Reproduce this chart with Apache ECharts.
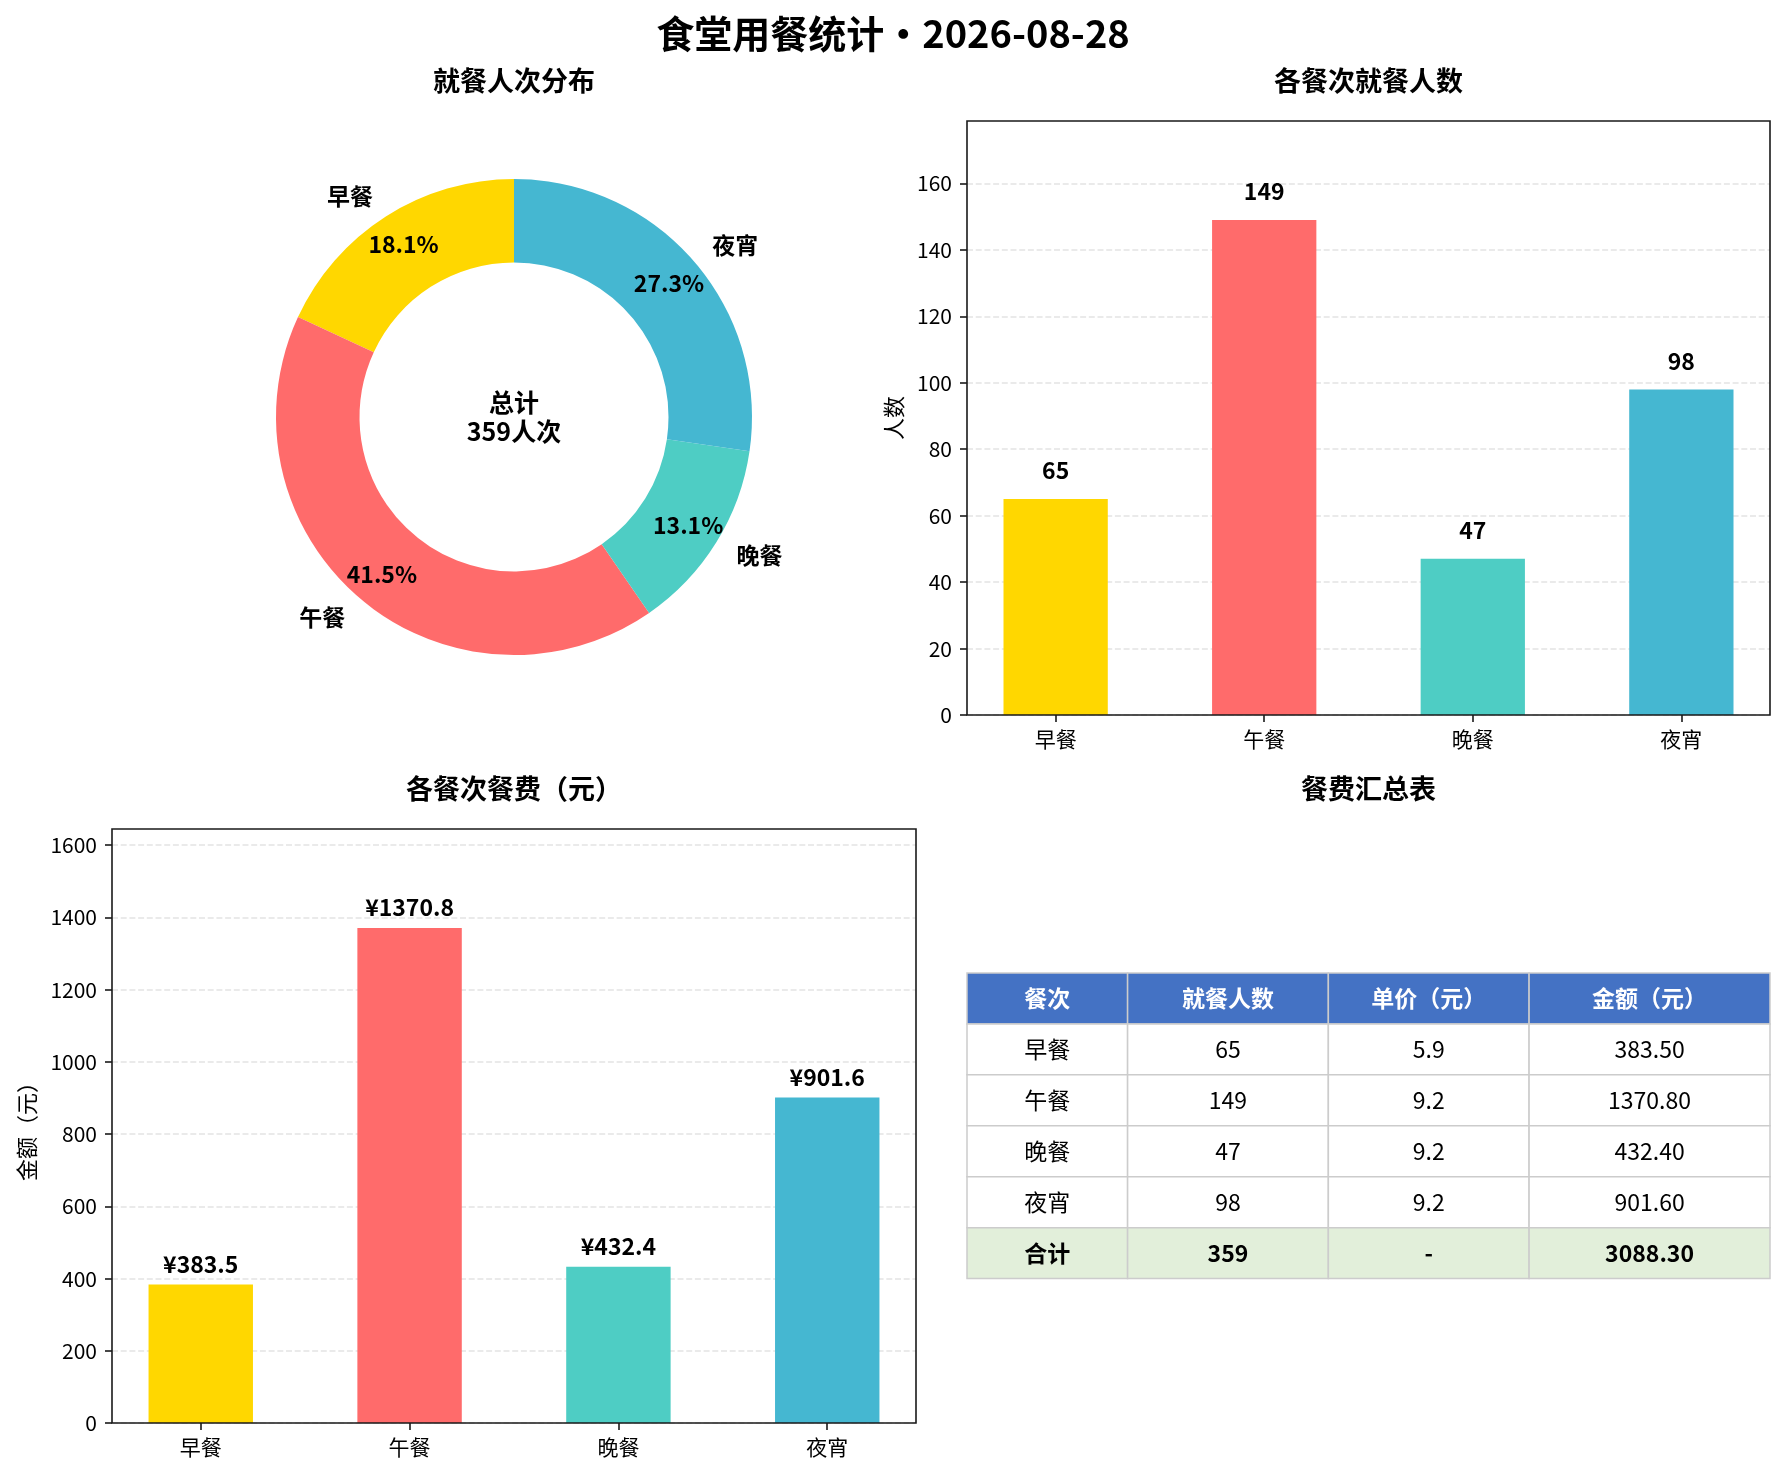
<!DOCTYPE html>
<html>
<head>
<meta charset="utf-8">
<title>食堂用餐统计</title>
<script src="https://cdn.jsdelivr.net/npm/echarts@6/dist/echarts.min.js"></script>
<style>
  html, body { margin: 0; padding: 0; background: #fff; }
  #chart { width: 1786px; height: 1475px; }
</style>
</head>
<body>
<div id="chart"></div>
<script>
// 数据
var meals = ['早餐', '午餐', '晚餐', '夜宵'];
var diners = [65, 149, 47, 98];
var prices = [5.9, 9.2, 9.2, 9.2];
var amounts = [383.5, 1370.8, 432.4, 901.6];
var countTicks = [0, 20, 40, 60, 80, 100, 120, 140, 160];
var amountTicks = [0, 200, 400, 600, 800, 1000, 1200, 1400, 1600];
var tableHeader = ['餐次', '就餐人数', '单价（元）', '金额（元）'];

var totalDiners = diners.reduce(function (a, b) { return a + b; }, 0);
var totalAmount = amounts.reduce(function (a, b) { return a + b; }, 0);

// 样式 / 布局
var colors = ['#FFD700', '#FF6B6B', '#4ECDC4', '#45B7D1'];
var FONT = '"Noto Sans CJK SC", "Noto Sans", sans-serif';
var boxTR = { left: 967, top: 121, width: 803, height: 594 };
var boxBL = { left: 112, top: 829, width: 804, height: 594 };
var boxTable = { left: 967, top: 973, width: 803, height: 305.6 };
var colWidths = [0.2, 0.25, 0.25, 0.3];

// matplotlib 的柱状图留白：-0.425 ~ 3.425
function barBox(b) {
  var u = b.width / 3.85;
  return { left: b.left - 0.075 * u, top: b.top, width: 4 * u, height: b.height };
}

function frameGrid(b) {
  return {
    left: b.left, top: b.top, width: b.width, height: b.height,
    show: true, borderColor: '#1a1a1a', borderWidth: 1.6,
    backgroundColor: 'transparent', z: 3
  };
}

function catAxis(gridIndex) {
  return {
    type: 'category', gridIndex: gridIndex, data: meals,
    axisLine: { show: false },
    axisTick: { show: true, alignWithLabel: true, length: 7, lineStyle: { color: '#1a1a1a', width: 1.6 } },
    axisLabel: { fontSize: 21, color: '#000', margin: 14, fontFamily: FONT }
  };
}

function valAxis(gridIndex, max, interval, ticks, name, nameGap) {
  return {
    type: 'value', gridIndex: gridIndex, min: 0, max: max, interval: interval,
    name: name, nameLocation: 'middle', nameGap: nameGap,
    nameTextStyle: { fontSize: 22, color: '#000', fontFamily: FONT },
    axisLine: { show: false },
    axisTick: { show: true, length: 7, customValues: ticks, lineStyle: { color: '#1a1a1a', width: 1.6 } },
    axisLabel: {
      fontSize: 21, color: '#000', margin: 15, customValues: ticks, fontFamily: FONT,
      formatter: function (v) { return String(v); }
    },
    splitLine: { show: true, lineStyle: { color: '#e4e4e4', width: 1.6, type: [6, 2.7] } }
  };
}

function hiddenVal(gridIndex, max) {
  return { type: 'value', gridIndex: gridIndex, min: 0, max: max, show: false };
}

var countMax = Math.max.apply(null, diners) * 1.2;
var amountMax = Math.max.apply(null, amounts) * 1.2;

// 表格单元
var colEdges = [0];
colWidths.forEach(function (w, i) { colEdges.push(colEdges[i] + w); });
var tableRows = [tableHeader];
meals.forEach(function (m, i) {
  tableRows.push([m, String(diners[i]), prices[i].toFixed(1), amounts[i].toFixed(2)]);
});
tableRows.push(['合计', String(totalDiners), '-', totalAmount.toFixed(2)]);

var cells = [];
tableRows.forEach(function (row, r) {
  row.forEach(function (txt, c) {
    var isHead = r === 0, isTotal = r === tableRows.length - 1;
    cells.push({
      value: [colEdges[c], colEdges[c + 1], r],
      text: txt,
      fill: isHead ? '#4472C4' : (isTotal ? '#E2EFDA' : '#ffffff'),
      color: isHead ? '#ffffff' : '#000000',
      bold: isHead || isTotal
    });
  });
});

function titleText(x, y, text, size) {
  return {
    type: 'text', x: x, y: y, silent: true,
    style: {
      text: text, align: 'center', verticalAlign: 'middle',
      fontSize: size, fontWeight: 'bold', fill: '#000', fontFamily: FONT
    }
  };
}

var chart = echarts.init(document.getElementById('chart'), null, { renderer: 'canvas' });

var option = {
  backgroundColor: '#ffffff',
  animation: false,
  textStyle: { fontFamily: FONT },
  graphic: [
    titleText(893, 33.5, '食堂用餐统计・2026-08-28', 38),
    titleText(514, 80.5, '就餐人次分布', 27),
    titleText(1368.5, 80.5, '各餐次就餐人数', 27),
    titleText(514, 789, '各餐次餐费（元）', 27),
    titleText(1368.5, 789, '餐费汇总表', 27),
    {
      type: 'text', x: 514, y: 417, silent: true,
      style: {
        text: '总计\n' + totalDiners + '人次', align: 'center', verticalAlign: 'middle',
        fontSize: 25, lineHeight: 29, fontWeight: 'bold', fill: '#000', fontFamily: FONT
      }
    }
  ],
  grid: [
    frameGrid(boxTR),
    barBox(boxTR),
    frameGrid(boxBL),
    barBox(boxBL),
    boxTable
  ],
  xAxis: [
    { type: 'value', gridIndex: 0, show: false, min: 0, max: 1 },
    catAxis(1),
    { type: 'value', gridIndex: 2, show: false, min: 0, max: 1 },
    catAxis(3),
    { type: 'value', gridIndex: 4, show: false, min: 0, max: 1 }
  ],
  yAxis: [
    valAxis(0, countMax, 20, countTicks, '人数', 62),
    hiddenVal(1, countMax),
    valAxis(2, amountMax, 200, amountTicks, '金额（元）', 74),
    hiddenVal(3, amountMax),
    { type: 'category', gridIndex: 4, show: false, inverse: true, data: tableRows.map(function (r, i) { return String(i); }) }
  ],
  series: [
    {
      type: 'pie', silent: true,
      center: [514, 417], radius: [154.5, 238],
      startAngle: 90, clockwise: false, avoidLabelOverlap: false,
      emphasis: { disabled: true },
      data: meals.map(function (m, i) { return { name: m, value: diners[i], itemStyle: { color: colors[i] } }; }),
      label: {
        show: true, position: 'outside', formatter: '{b}', distanceToLabelLine: 0,
        fontSize: 23, fontWeight: 'bold', color: '#000', fontFamily: FONT
      },
      labelLine: { show: false, length: 24, length2: 0 }
    },
    {
      type: 'pie', silent: true,
      center: [514, 417], radius: [166, 238],
      startAngle: 90, clockwise: false, avoidLabelOverlap: false,
      emphasis: { disabled: true },
      itemStyle: { color: 'rgba(0,0,0,0)' },
      data: meals.map(function (m, i) { return { name: m, value: diners[i] }; }),
      label: {
        show: true, position: 'inside',
        formatter: function (p) { return (p.value / totalDiners * 100).toFixed(1) + '%'; },
        fontSize: 23, fontWeight: 'bold', color: '#000', fontFamily: FONT
      },
      labelLine: { show: false }
    },
    {
      type: 'bar', xAxisIndex: 1, yAxisIndex: 1, barWidth: '50%', silent: true,
      data: diners.map(function (v, i) { return { value: v, itemStyle: { color: colors[i] } }; }),
      label: {
        show: true, position: 'top', distance: 17,
        fontSize: 23, fontWeight: 'bold', color: '#000', fontFamily: FONT
      }
    },
    {
      type: 'bar', xAxisIndex: 3, yAxisIndex: 3, barWidth: '50%', silent: true,
      data: amounts.map(function (v, i) { return { value: v, itemStyle: { color: colors[i] } }; }),
      label: {
        show: true, position: 'top', distance: 9,
        formatter: function (p) { return '¥' + p.value.toFixed(1); },
        fontSize: 23, fontWeight: 'bold', color: '#000', fontFamily: FONT
      }
    },
    {
      type: 'custom', xAxisIndex: 4, yAxisIndex: 4, silent: true,
      encode: { x: [0, 1], y: 2 },
      data: cells,
      renderItem: function (params, api) {
        var cell = cells[params.dataIndex];
        var p0 = api.coord([api.value(0), api.value(2)]);
        var p1 = api.coord([api.value(1), api.value(2)]);
        var h = api.size([0, 1])[1];
        return {
          type: 'group',
          children: [
            {
              type: 'rect',
              shape: { x: p0[0], y: p0[1] - h / 2, width: p1[0] - p0[0], height: h },
              style: { fill: cell.fill, stroke: '#cccccc', lineWidth: 1.5 }
            },
            {
              type: 'text',
              style: {
                x: (p0[0] + p1[0]) / 2, y: p0[1], text: cell.text,
                align: 'center', verticalAlign: 'middle',
                fontSize: 23, fontWeight: cell.bold ? 'bold' : 'normal',
                fill: cell.color, fontFamily: FONT
              }
            }
          ]
        };
      }
    }
  ]
};

chart.setOption(option);
</script>
</body>
</html>
